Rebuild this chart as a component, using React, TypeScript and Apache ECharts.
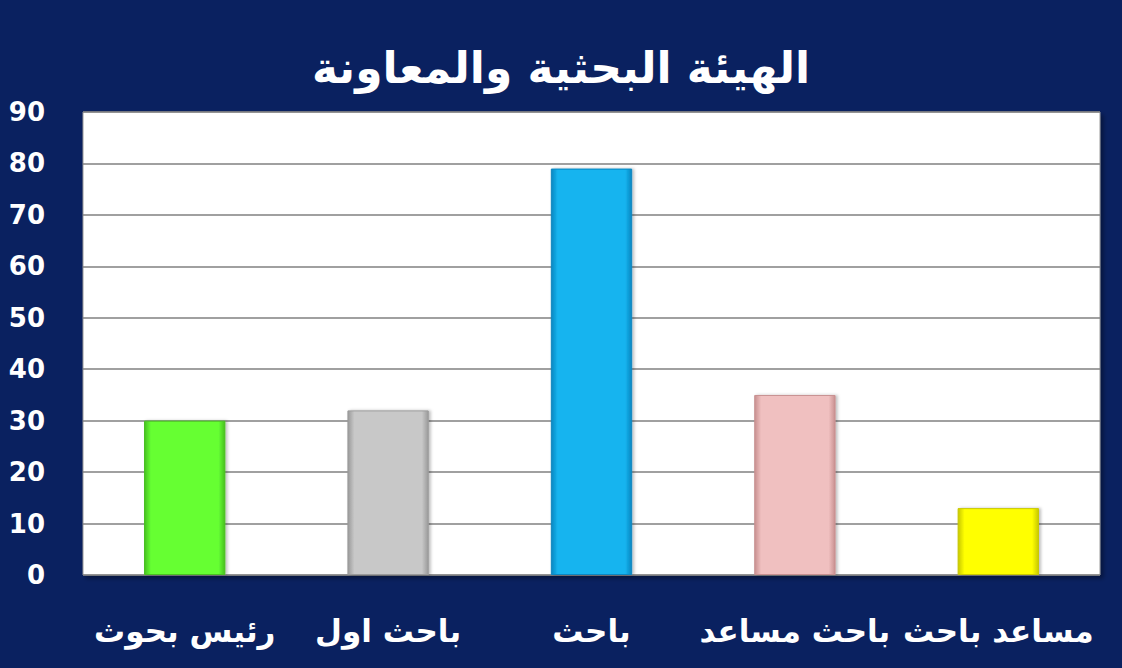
import React, { useEffect, useRef } from "react";
import * as echarts from "echarts";

const title = "الهيئة البحثية والمعاونة";
const categories = ["رئيس بحوث", "باحث اول", "باحث", "باحث مساعد", "مساعد باحث"];
const values = [30, 32, 79, 35, 13];
const barColors = ["#66ff33", "#c8c8c8", "#14b4ef", "#f0c0c0", "#ffff00"];
const barEdges = ["#48c020", "#9a9a9a", "#0a86c0", "#c89090", "#c8c800"];
const yTicks = [0, 10, 20, 30, 40, 50, 60, 70, 80, 90];

export default function App() {
  const ref = useRef<HTMLDivElement>(null);
  useEffect(() => {
    if (!ref.current) return;
    const chart = echarts.init(ref.current, undefined, { renderer: "svg" });
    chart.setOption({
      animation: false,
      backgroundColor: "#0a2160",
      title: {
        text: title,
        left: "center",
        top: 40,
        textStyle: { color: "#ffffff", fontSize: 44, fontWeight: "bold", fontFamily: "DejaVu Sans" },
      },
      grid: {
        left: 83,
        right: 22,
        top: 112,
        bottom: 93,
        show: true,
        backgroundColor: "#ffffff",
        borderColor: "#9a9a9a",
        borderWidth: 1,
        shadowColor: "rgba(0,0,0,0.35)",
        shadowBlur: 4,
        shadowOffsetX: 3,
        shadowOffsetY: 3,
      },
      xAxis: {
        type: "category",
        data: categories,
        axisLine: { show: false },
        axisTick: { show: false },
        axisLabel: {
          color: "#ffffff",
          fontSize: 31,
          fontWeight: "bold",
          fontFamily: "DejaVu Sans",
          margin: 40,
          interval: 0,
        },
      },
      yAxis: {
        type: "value",
        min: yTicks[0],
        max: yTicks[yTicks.length - 1],
        interval: 10,
        axisLine: { show: false },
        axisTick: { show: false },
        axisLabel: {
          color: "#ffffff",
          fontSize: 26,
          fontWeight: "bold",
          fontFamily: "DejaVu Sans",
          margin: 38,
        },
        splitLine: { show: true, lineStyle: { color: "#808080", width: 1.5 } },
      },
      series: [
        {
          type: "bar",
          barWidth: "40%",
          data: values.map((v, i) => ({
            value: v,
            itemStyle: {
              color: {
                type: "linear",
                x: 0, y: 0, x2: 1, y2: 0,
                colorStops: [
                  { offset: 0, color: barEdges[i] },
                  { offset: 0.08, color: barColors[i] },
                  { offset: 0.92, color: barColors[i] },
                  { offset: 1, color: barEdges[i] },
                ],
              },
              borderColor: barEdges[i],
              borderWidth: 1,
              shadowColor: "rgba(0,0,0,0.25)",
              shadowBlur: 3,
              shadowOffsetX: 2,
            },
          })),
        },
      ],
    });
    return () => chart.dispose();
  }, []);
  return (
    <div
      ref={ref}
      style={{ position: "fixed", left: 0, top: 0, width: 1122, height: 668 }}
    />
  );
}
